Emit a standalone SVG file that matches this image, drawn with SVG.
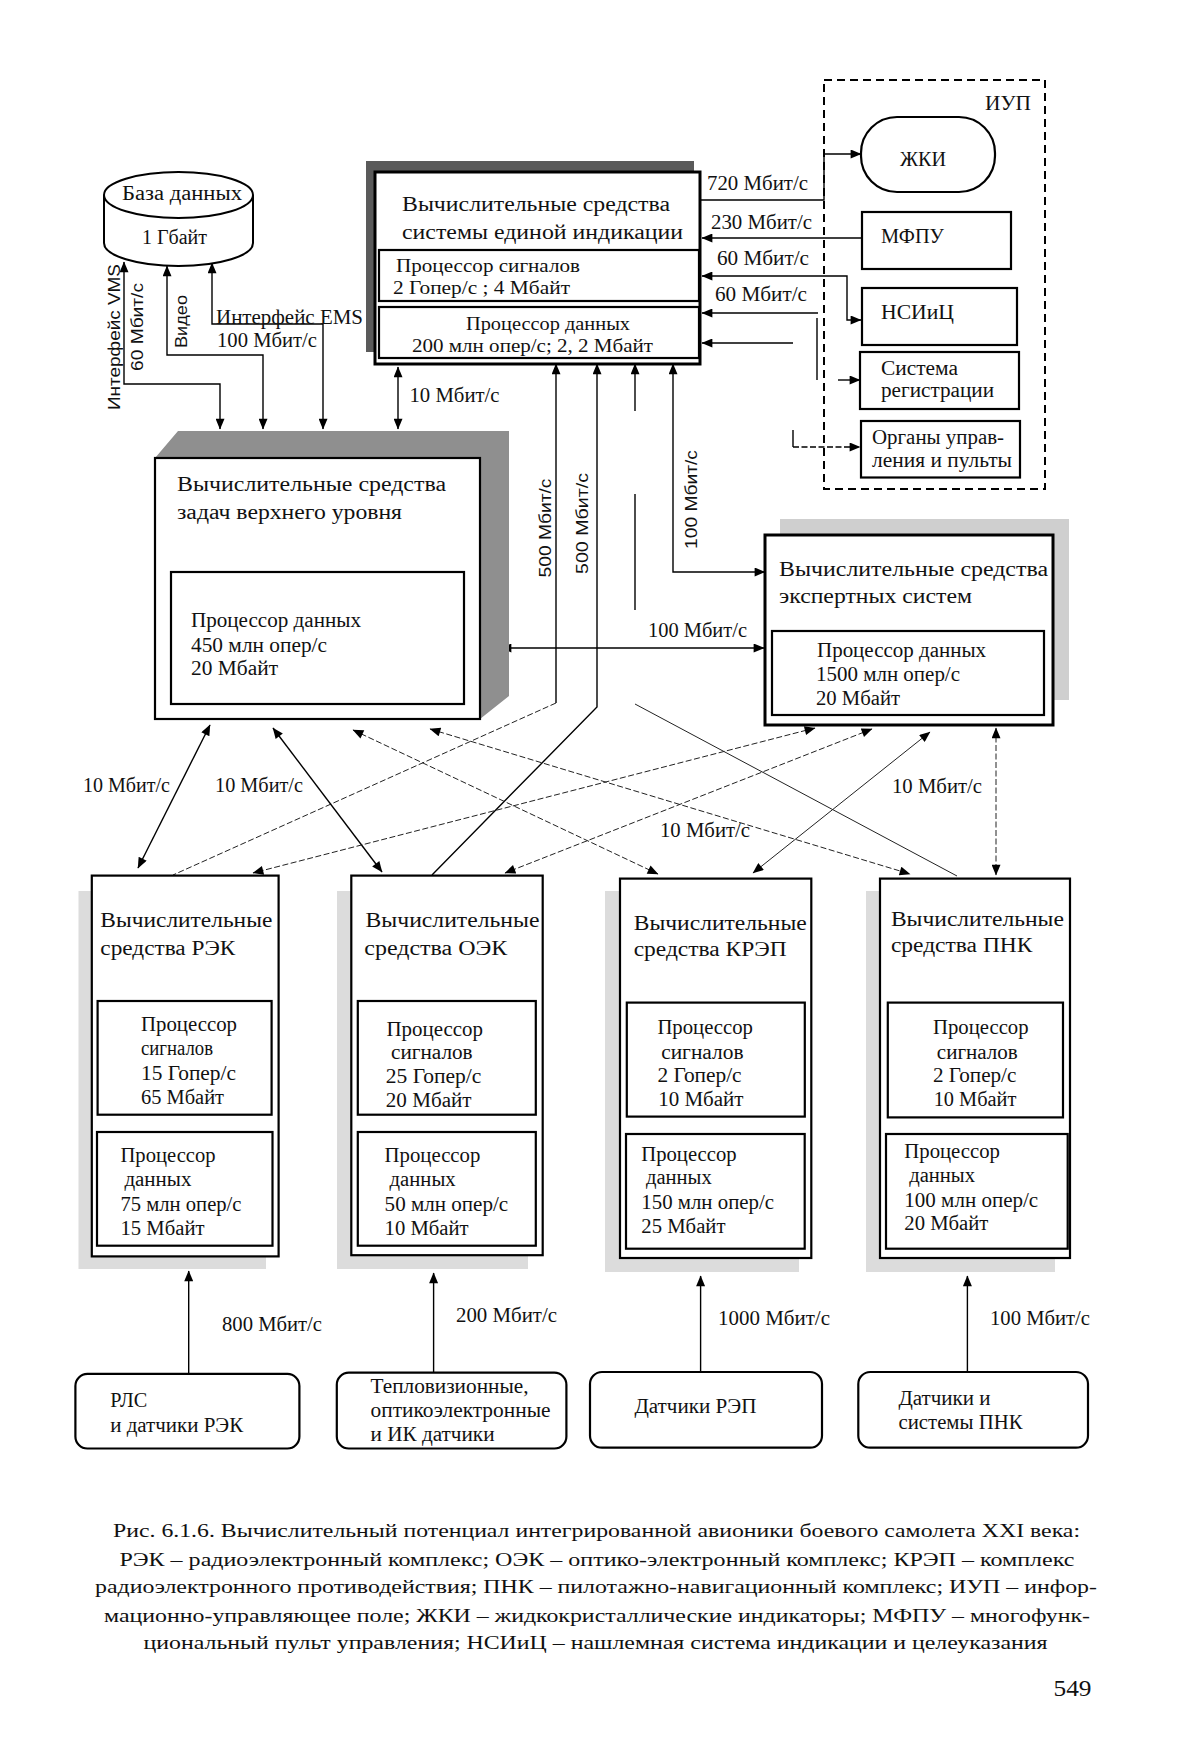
<svg xmlns="http://www.w3.org/2000/svg" width="1200" height="1762" viewBox="0 0 1200 1762">
<style>
.t{font-family:"Liberation Serif","Times New Roman",serif;font-size:20px;fill:#111}
.sm{font-size:18px}
.cap{font-size:19px}
.s{font-family:"Liberation Sans",Arial,sans-serif;font-size:17px;fill:#111}
.box{fill:#fff;stroke:#000;stroke-width:2.2}
.thick{stroke-width:3}
.ln{fill:none;stroke:#000;stroke-width:1.4}
.thin{fill:none;stroke:#222;stroke-width:1}
.dash{stroke-dasharray:6,2.5}
.sh{fill:#dcdcdc}
</style>
<defs>
<marker id="ah" viewBox="0 0 12 10" refX="11.5" refY="5" markerWidth="12" markerHeight="9" markerUnits="userSpaceOnUse" orient="auto-start-reverse"><path d="M0,0 L12,5 L0,10 z" fill="#000"/></marker>
</defs>
<rect width="1200" height="1762" fill="#fff"/>

<g id="connectors">
<path class="ln" d="M124,262 V384 H220 V429" marker-start="url(#ah)" marker-end="url(#ah)"/>
<path class="ln" d="M167,266 V355 H263 V429" marker-start="url(#ah)" marker-end="url(#ah)"/>
<path class="ln" d="M212,263 V324 H323 V429" marker-start="url(#ah)" marker-end="url(#ah)"/>
<path class="ln" d="M398,367 V429" marker-start="url(#ah)" marker-end="url(#ah)"/>
<path class="ln" d="M700,200 H824 V154 H861" marker-end="url(#ah)"/>
<path class="ln" d="M862,238 H702" marker-end="url(#ah)"/>
<path class="ln" d="M702,276 H847 V320 H861" marker-start="url(#ah)" marker-end="url(#ah)"/>
<path class="ln" d="M818,313 H702" marker-end="url(#ah)"/>
<path class="ln" d="M793,343 H702" marker-end="url(#ah)"/>
<path class="ln" d="M817,318 V380"/>
<path class="ln" d="M838,380 H860" marker-end="url(#ah)"/>
<path class="ln" d="M793,430 V447"/>
<path class="ln dash" d="M793,447 H860" marker-end="url(#ah)"/>
<path class="ln" d="M556,364 V703" marker-start="url(#ah)"/>
<path class="thin dash" d="M556,703 L173,875"/>
<path class="ln" d="M597,364 V707 L432,875" marker-start="url(#ah)"/>
<path class="ln" d="M635,364 V411" marker-start="url(#ah)"/>
<path class="ln" d="M635,494 V610"/>
<path class="thin" d="M635,704 L957,876"/>
<path class="ln" d="M673,364 V572 H765" marker-start="url(#ah)" marker-end="url(#ah)"/>
<path class="ln" d="M501,648 H764" marker-start="url(#ah)" marker-end="url(#ah)"/>
<path class="ln" d="M210,725 L138,868" marker-start="url(#ah)" marker-end="url(#ah)"/>
<path class="ln" d="M273,728 L382,872" marker-start="url(#ah)" marker-end="url(#ah)"/>
<path class="thin dash" d="M353,730 L658,874" marker-start="url(#ah)" marker-end="url(#ah)"/>
<path class="thin dash" d="M430,729 L910,874" marker-start="url(#ah)" marker-end="url(#ah)"/>
<path class="thin dash" d="M815,728 L253,873" marker-start="url(#ah)" marker-end="url(#ah)"/>
<path class="thin dash" d="M872,729 L505,873" marker-start="url(#ah)" marker-end="url(#ah)"/>
<path class="thin" d="M930,732 L753,873" marker-start="url(#ah)" marker-end="url(#ah)"/>
<path class="thin dash" d="M996,728 V875" marker-start="url(#ah)" marker-end="url(#ah)"/>
<path class="ln" d="M188.7,1374 V1271" marker-end="url(#ah)"/>
<path class="ln" d="M433.6,1373 V1273" marker-end="url(#ah)"/>
<path class="ln" d="M700.6,1372 V1276" marker-end="url(#ah)"/>
<path class="ln" d="M967.4,1372 V1276" marker-end="url(#ah)"/>
</g>

<g id="labels">
<text class="t" x="707" y="190" textLength="101" lengthAdjust="spacingAndGlyphs">720 Мбит/с</text>
<text class="t" x="711" y="229" textLength="101" lengthAdjust="spacingAndGlyphs">230 Мбит/с</text>
<text class="t" x="717" y="265" textLength="92" lengthAdjust="spacingAndGlyphs">60 Мбит/с</text>
<text class="t" x="715" y="301" textLength="92" lengthAdjust="spacingAndGlyphs">60 Мбит/с</text>
<text class="t" x="409.5" y="402" textLength="90" lengthAdjust="spacingAndGlyphs">10 Мбит/с</text>
<text class="t" x="216" y="324" textLength="147" lengthAdjust="spacingAndGlyphs">Интерфейс EMS</text>
<text class="t" x="217" y="347" textLength="100" lengthAdjust="spacingAndGlyphs">100 Мбит/с</text>
<text class="s" transform="translate(120,337) rotate(-90)" text-anchor="middle" textLength="146" lengthAdjust="spacingAndGlyphs">Интерфейс VMS</text>
<text class="s" transform="translate(143,327) rotate(-90)" text-anchor="middle" textLength="88" lengthAdjust="spacingAndGlyphs">60 Мбит/с</text>
<text class="s" transform="translate(187,321.5) rotate(-90)" text-anchor="middle" textLength="53" lengthAdjust="spacingAndGlyphs">Видео</text>
<text class="s" transform="translate(551,528) rotate(-90)" text-anchor="middle" textLength="99" lengthAdjust="spacingAndGlyphs">500 Мбит/с</text>
<text class="s" transform="translate(588,523.5) rotate(-90)" text-anchor="middle" textLength="101" lengthAdjust="spacingAndGlyphs">500 Мбит/с</text>
<text class="s" transform="translate(697,499.5) rotate(-90)" text-anchor="middle" textLength="99" lengthAdjust="spacingAndGlyphs">100 Мбит/с</text>
<text class="t" x="648" y="637" textLength="99" lengthAdjust="spacingAndGlyphs">100 Мбит/с</text>
<text class="t" x="83" y="792" textLength="87" lengthAdjust="spacingAndGlyphs">10 Мбит/с</text>
<text class="t" x="215" y="792" textLength="88" lengthAdjust="spacingAndGlyphs">10 Мбит/с</text>
<text class="t" x="660" y="837" textLength="90" lengthAdjust="spacingAndGlyphs">10 Мбит/с</text>
<text class="t" x="892" y="793" textLength="90" lengthAdjust="spacingAndGlyphs">10 Мбит/с</text>
<text class="t" x="222" y="1331" textLength="100" lengthAdjust="spacingAndGlyphs">800 Мбит/с</text>
<text class="t" x="456" y="1322" textLength="101" lengthAdjust="spacingAndGlyphs">200 Мбит/с</text>
<text class="t" x="718" y="1325" textLength="112" lengthAdjust="spacingAndGlyphs">1000 Мбит/с</text>
<text class="t" x="990" y="1325" textLength="100" lengthAdjust="spacingAndGlyphs">100 Мбит/с</text>
</g>

<g id="db">
<path d="M104,195 V243 A74.5,23 0 0 0 253,243 V195" fill="#fff" stroke="#000" stroke-width="2"/>
<ellipse cx="178.5" cy="195" rx="74.5" ry="23" fill="#fff" stroke="#000" stroke-width="2"/>
<text class="t" x="122" y="200" textLength="120" lengthAdjust="spacingAndGlyphs">База данных</text>
<text class="t" x="142" y="244" textLength="65" lengthAdjust="spacingAndGlyphs">1 Гбайт</text>
</g>

<g id="sei">
<rect x="366" y="161" width="328" height="191" fill="#5a5a5a"/>
<rect class="box thick" x="375" y="172" width="325" height="192"/>
<text class="t" x="402" y="211" textLength="268" lengthAdjust="spacingAndGlyphs">Вычислительные средства</text>
<text class="t" x="402" y="239" textLength="281" lengthAdjust="spacingAndGlyphs">системы единой индикации</text>
<rect class="box" x="379" y="250" width="320" height="51"/>
<text class="t sm" x="396" y="272" textLength="184" lengthAdjust="spacingAndGlyphs">Процессор сигналов</text>
<text class="t sm" x="393" y="294" textLength="177" lengthAdjust="spacingAndGlyphs">2 Гопер/с ; 4 Мбайт</text>
<rect class="box" x="379" y="307" width="320" height="51"/>
<text class="t sm" x="466" y="330" textLength="164" lengthAdjust="spacingAndGlyphs">Процессор данных</text>
<text class="t sm" x="412" y="352" textLength="241" lengthAdjust="spacingAndGlyphs">200 млн опер/с; 2, 2 Мбайт</text>
</g>

<g id="upper">
<polygon points="155,458 178,431 509,431 509,696 480,719 480,458" fill="#8f8f8f"/>
<rect class="box" x="155" y="458" width="325" height="261" stroke-width="2.6"/>
<text class="t" x="177" y="491" textLength="269" lengthAdjust="spacingAndGlyphs">Вычислительные средства</text>
<text class="t" x="177" y="519" textLength="225" lengthAdjust="spacingAndGlyphs">задач верхнего уровня</text>
<rect class="box" x="171" y="572" width="293" height="132"/>
<text class="t" x="191" y="627" textLength="170" lengthAdjust="spacingAndGlyphs">Процессор данных</text>
<text class="t" x="191" y="652" textLength="136" lengthAdjust="spacingAndGlyphs">450 млн опер/с</text>
<text class="t" x="191" y="675" textLength="87" lengthAdjust="spacingAndGlyphs">20 Мбайт</text>
</g>

<g id="expert">
<rect x="780" y="519" width="289" height="181" fill="#cfcfcf"/>
<rect class="box thick" x="765" y="535" width="288" height="190"/>
<text class="t" x="779" y="576" textLength="269" lengthAdjust="spacingAndGlyphs">Вычислительные средства</text>
<text class="t" x="779" y="603" textLength="193" lengthAdjust="spacingAndGlyphs">экспертных систем</text>
<rect class="box" x="772" y="631" width="272" height="84"/>
<text class="t" x="817" y="657" textLength="169" lengthAdjust="spacingAndGlyphs">Процессор данных</text>
<text class="t" x="816" y="681" textLength="144" lengthAdjust="spacingAndGlyphs">1500 млн опер/с</text>
<text class="t" x="816" y="705" textLength="84" lengthAdjust="spacingAndGlyphs">20 Мбайт</text>
</g>

<g id="iup">
<rect x="824" y="80" width="221" height="409" fill="none" stroke="#000" stroke-width="2" stroke-dasharray="8,5"/>
<text class="t" x="985" y="110" textLength="46" lengthAdjust="spacingAndGlyphs">ИУП</text>
</g>
<g id="zhki">
<rect class="box" x="861" y="117" width="134" height="75" rx="36" ry="36" stroke-width="1.8"/>
<text class="t" x="900" y="166" textLength="46" lengthAdjust="spacingAndGlyphs">ЖКИ</text>
</g>
<g id="mfpu">
<rect class="box" x="862" y="212" width="149" height="57" stroke-width="1.6"/>
<text class="t" x="881" y="243" textLength="63" lengthAdjust="spacingAndGlyphs">МФПУ</text>
</g>
<g id="nsic">
<rect class="box" x="862" y="288" width="155" height="57"/>
<text class="t" x="881" y="319" textLength="73" lengthAdjust="spacingAndGlyphs">НСИиЦ</text>
</g>
<g id="reg">
<rect class="box" x="860" y="352" width="159" height="57" stroke-width="2.8"/>
<text class="t" x="881" y="375" textLength="77" lengthAdjust="spacingAndGlyphs">Система</text>
<text class="t" x="881" y="397" textLength="113" lengthAdjust="spacingAndGlyphs">регистрации</text>
</g>
<g id="organs">
<rect class="box" x="861" y="421" width="159" height="56.5"/>
<text class="t" x="872" y="444" textLength="132" lengthAdjust="spacingAndGlyphs">Органы управ-</text>
<text class="t" x="872" y="467" textLength="140" lengthAdjust="spacingAndGlyphs">ления и пульты</text>
</g>

<g id="rek">
<rect class="sh" x="78.5" y="891" width="187.5" height="378"/>
<rect class="box" x="91.8" y="875.6" width="186.8" height="380.8" stroke-width="2.6"/>
<text class="t" x="100.3" y="927" textLength="172" lengthAdjust="spacingAndGlyphs">Вычислительные</text>
<text class="t" x="100.3" y="955" textLength="135" lengthAdjust="spacingAndGlyphs">средства РЭК</text>
<rect class="box" x="97.6" y="1001" width="174" height="113.7"/>
<text class="t" x="141" y="1030.5" textLength="96" lengthAdjust="spacingAndGlyphs">Процессор</text>
<text class="t" x="141" y="1055" textLength="72" lengthAdjust="spacingAndGlyphs">сигналов</text>
<text class="t" x="141" y="1080" textLength="95" lengthAdjust="spacingAndGlyphs">15 Гопер/с</text>
<text class="t" x="141" y="1104" textLength="83" lengthAdjust="spacingAndGlyphs">65 Мбайт</text>
<rect class="box" x="97" y="1132" width="175.5" height="113.7"/>
<text class="t" x="120.5" y="1162" textLength="95" lengthAdjust="spacingAndGlyphs">Процессор</text>
<text class="t" x="124.4" y="1185.5" textLength="67" lengthAdjust="spacingAndGlyphs">данных</text>
<text class="t" x="120.5" y="1210.5" textLength="121" lengthAdjust="spacingAndGlyphs">75 млн опер/с</text>
<text class="t" x="120.5" y="1235" textLength="84" lengthAdjust="spacingAndGlyphs">15 Мбайт</text>
</g>

<g id="oek">
<rect class="sh" x="337" y="891" width="191" height="378"/>
<rect class="box" x="351.3" y="875.6" width="191.4" height="379.6" stroke-width="2.6"/>
<text class="t" x="365.5" y="927" textLength="174" lengthAdjust="spacingAndGlyphs">Вычислительные</text>
<text class="t" x="364.3" y="955" textLength="143" lengthAdjust="spacingAndGlyphs">средства ОЭК</text>
<rect class="box" x="357.8" y="1001" width="178" height="113.7"/>
<text class="t" x="386.5" y="1036" textLength="96.5" lengthAdjust="spacingAndGlyphs">Процессор</text>
<text class="t" x="391" y="1059" textLength="81.6" lengthAdjust="spacingAndGlyphs">сигналов</text>
<text class="t" x="385.8" y="1083" textLength="95.6" lengthAdjust="spacingAndGlyphs">25 Гопер/с</text>
<text class="t" x="385.8" y="1107" textLength="85.7" lengthAdjust="spacingAndGlyphs">20 Мбайт</text>
<rect class="box" x="357.8" y="1132" width="178" height="113.7"/>
<text class="t" x="384.6" y="1162" textLength="95.7" lengthAdjust="spacingAndGlyphs">Процессор</text>
<text class="t" x="389.6" y="1185.5" textLength="66" lengthAdjust="spacingAndGlyphs">данных</text>
<text class="t" x="384.6" y="1210.5" textLength="123.6" lengthAdjust="spacingAndGlyphs">50 млн опер/с</text>
<text class="t" x="384.6" y="1235" textLength="84" lengthAdjust="spacingAndGlyphs">10 Мбайт</text>
</g>

<g id="krep">
<rect class="sh" x="605" y="891" width="194" height="381"/>
<rect class="box" x="620" y="878.6" width="191.3" height="379.4" stroke-width="2.6"/>
<text class="t" x="633.7" y="930" textLength="173" lengthAdjust="spacingAndGlyphs">Вычислительные</text>
<text class="t" x="633.7" y="956" textLength="153" lengthAdjust="spacingAndGlyphs">средства КРЭП</text>
<rect class="box" x="626.8" y="1002.6" width="178" height="114"/>
<text class="t" x="657.4" y="1034.4" textLength="95.6" lengthAdjust="spacingAndGlyphs">Процессор</text>
<text class="t" x="661.2" y="1058.5" textLength="82.3" lengthAdjust="spacingAndGlyphs">сигналов</text>
<text class="t" x="657.4" y="1082" textLength="84.2" lengthAdjust="spacingAndGlyphs">2 Гопер/с</text>
<text class="t" x="658.2" y="1106" textLength="85.3" lengthAdjust="spacingAndGlyphs">10 Мбайт</text>
<rect class="box" x="626" y="1134" width="178.7" height="114.7"/>
<text class="t" x="641.3" y="1160.6" textLength="95.3" lengthAdjust="spacingAndGlyphs">Процессор</text>
<text class="t" x="646" y="1183.6" textLength="65.7" lengthAdjust="spacingAndGlyphs">данных</text>
<text class="t" x="641.3" y="1209.3" textLength="132.7" lengthAdjust="spacingAndGlyphs">150 млн опер/с</text>
<text class="t" x="641.3" y="1233" textLength="84.2" lengthAdjust="spacingAndGlyphs">25 Мбайт</text>
</g>

<g id="pnk">
<rect class="sh" x="866" y="891" width="189" height="381"/>
<rect class="box" x="880" y="878.6" width="190" height="379.4" stroke-width="2.6"/>
<text class="t" x="890.9" y="926" textLength="173" lengthAdjust="spacingAndGlyphs">Вычислительные</text>
<text class="t" x="890.9" y="952" textLength="141.6" lengthAdjust="spacingAndGlyphs">средства ПНК</text>
<rect class="box" x="887.8" y="1002.6" width="175.2" height="114.8"/>
<text class="t" x="933" y="1034.4" textLength="95.6" lengthAdjust="spacingAndGlyphs">Процессор</text>
<text class="t" x="936.8" y="1058.5" textLength="81" lengthAdjust="spacingAndGlyphs">сигналов</text>
<text class="t" x="933" y="1082" textLength="83.4" lengthAdjust="spacingAndGlyphs">2 Гопер/с</text>
<text class="t" x="933.7" y="1106" textLength="82.7" lengthAdjust="spacingAndGlyphs">10 Мбайт</text>
<rect class="box" x="886" y="1134" width="181.7" height="114.7"/>
<text class="t" x="904.3" y="1158" textLength="95.7" lengthAdjust="spacingAndGlyphs">Процессор</text>
<text class="t" x="909.2" y="1181.7" textLength="65.8" lengthAdjust="spacingAndGlyphs">данных</text>
<text class="t" x="904.3" y="1206.6" textLength="133.9" lengthAdjust="spacingAndGlyphs">100 млн опер/с</text>
<text class="t" x="904.3" y="1230.4" textLength="84.1" lengthAdjust="spacingAndGlyphs">20 Мбайт</text>
</g>

<g id="rls">
<rect class="box" x="75.4" y="1373.9" width="224" height="74.6" rx="12"/>
<text class="t" x="110.2" y="1407" textLength="37" lengthAdjust="spacingAndGlyphs">РЛС</text>
<text class="t" x="110.2" y="1432" textLength="133" lengthAdjust="spacingAndGlyphs">и датчики РЭК</text>
</g>
<g id="teplo">
<rect class="box" x="336.8" y="1372.7" width="229.6" height="75.8" rx="12"/>
<text class="t" x="370.5" y="1393" textLength="158" lengthAdjust="spacingAndGlyphs">Тепловизионные,</text>
<text class="t" x="370.5" y="1417" textLength="180" lengthAdjust="spacingAndGlyphs">оптикоэлектронные</text>
<text class="t" x="370.5" y="1441" textLength="124" lengthAdjust="spacingAndGlyphs">и ИК датчики</text>
</g>
<g id="rep">
<rect class="box" x="590" y="1372" width="232" height="75.7" rx="12"/>
<text class="t" x="634.4" y="1413" textLength="122" lengthAdjust="spacingAndGlyphs">Датчики РЭП</text>
</g>
<g id="pnksens">
<rect class="box" x="858.3" y="1372" width="229.7" height="75.7" rx="12"/>
<text class="t" x="898.5" y="1404.5" textLength="92" lengthAdjust="spacingAndGlyphs">Датчики и</text>
<text class="t" x="898.5" y="1428.6" textLength="124" lengthAdjust="spacingAndGlyphs">системы ПНК</text>
</g>

<g id="caption">
<text class="t cap" x="113" y="1537" textLength="967" lengthAdjust="spacingAndGlyphs">Рис. 6.1.6. Вычислительный потенциал интегрированной авионики боевого самолета XXI века:</text>
<text class="t cap" x="119.4" y="1565.5" textLength="955" lengthAdjust="spacingAndGlyphs">РЭК – радиоэлектронный комплекс; ОЭК – оптико-электронный комплекс; КРЭП – комплекс</text>
<text class="t cap" x="95" y="1593" textLength="1002" lengthAdjust="spacingAndGlyphs">радиоэлектронного противодействия; ПНК – пилотажно-навигационный комплекс; ИУП – инфор-</text>
<text class="t cap" x="104" y="1621.5" textLength="986" lengthAdjust="spacingAndGlyphs">мационно-управляющее поле; ЖКИ – жидкокристаллические индикаторы; МФПУ – многофунк-</text>
<text class="t cap" x="143.5" y="1648.5" textLength="904" lengthAdjust="spacingAndGlyphs">циональный пульт управления; НСИиЦ – нашлемная система индикации и целеуказания</text>
<text class="t" x="1053.5" y="1695.5" style="font-size:24px" textLength="38" lengthAdjust="spacingAndGlyphs">549</text>
</g>
</svg>
